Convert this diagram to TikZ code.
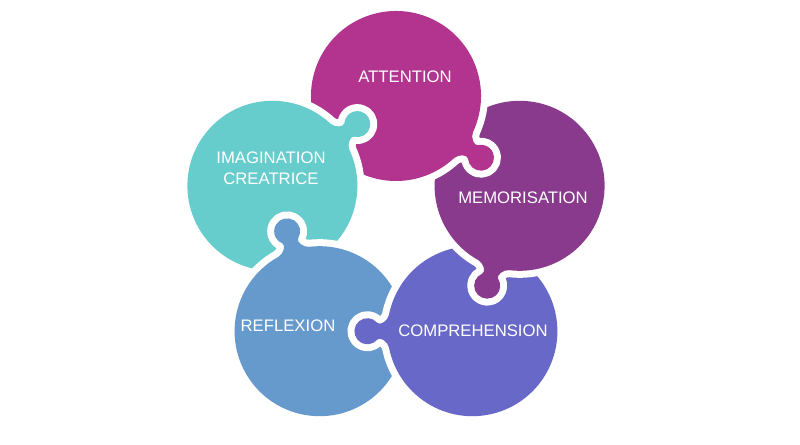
\documentclass[tikz,border=0pt]{standalone}
\usepackage{fontspec}
\setmainfont{Liberation Sans}
\definecolor{attcol}{RGB}{178,52,142}
\definecolor{memcol}{RGB}{137,58,140}
\definecolor{compcol}{RGB}{103,104,200}
\definecolor{refcol}{RGB}{102,153,204}
\definecolor{imacol}{RGB}{102,204,204}
\tikzset{
  piece/.style={fill=#1, preaction={draw=white, line width=0.28cm, line join=round}},
  tagtext/.style={text=white, font=\fontsize{9.5}{12}\selectfont, align=center, inner sep=0pt}
}

\begin{document}
\begin{tikzpicture}[x=0.02cm,y=0.02cm]
			% canvas
			\fill[white] (-396,-219) rectangle (404,226);
			\useasboundingbox (-396,-219) rectangle (404,226);
			
			% one puzzle piece, tab pointing along +x
			\def\PieceShape{(83.44,16.22) arc[start angle=11, end angle=349, radius=85]
				.. controls (84.59,-10.33) and (92.47,-5.30) .. (95.04,-8.36)
				arc[start angle=-140, end angle=140, radius=13]
				.. controls (92.47,5.30) and (84.59,10.33) .. (83.44,16.22) -- cycle}
			
			% Imagination (first, redrawn on top of Attention below)
			\begin{scope}[shift={(-123.6,40.2)}, rotate=36]
				\path[piece=imacol] \PieceShape;
			\end{scope}
			
			% Reflexion
			\begin{scope}[shift={(-76.4,-105.2)}, rotate=108]
				\path[piece=refcol] \PieceShape;
			\end{scope}
			
			% Comprehension
			\begin{scope}[shift={(76.4,-105.2)}, rotate=180]
				\path[piece=compcol] \PieceShape;
			\end{scope}
			
			% Memorisation
			\begin{scope}[shift={(123.6,40.2)}, rotate=-108]
				\path[piece=memcol] \PieceShape;
			\end{scope}
			
			% Attention
			\begin{scope}[shift={(0,130)}, rotate=-36]
				\path[piece=attcol] \PieceShape;
			\end{scope}
			
			% Imagination again, only where it lies over Attention
			\begin{scope}
				\clip (-250,20) rectangle (50,250);
				\begin{scope}[shift={(-123.6,40.2)}, rotate=36]
					\path[piece=imacol] \PieceShape;
				\end{scope}
			\end{scope}
			
			% labels
			\node[tagtext] (attention) at (9,149) {ATTENTION};
			\node[tagtext] (memorisation) at (127,28) {MEMORISATION};
			\node[tagtext] (comprehension) at (77,-105) {COMPREHENSION};
			\node[tagtext] (reflexion) at (-108,-100) {REFLEXION};
			\node[tagtext] (imagination) at (-125,58) {IMAGINATION\\CREATRICE};
			
		\end{tikzpicture}
\end{document}
